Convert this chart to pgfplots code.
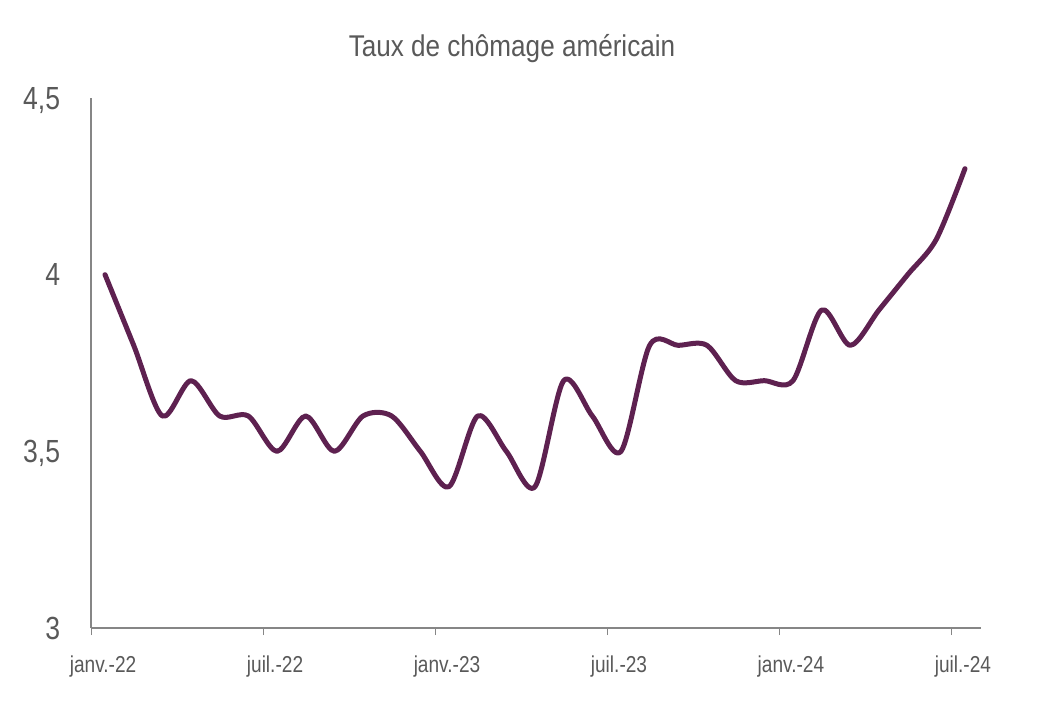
\documentclass[border=0pt]{standalone}
\usepackage{pgfplots}
\pgfplotsset{compat=1.18}
\usepackage{fontspec}
\setmainfont{Liberation Sans}
\newfontfamily\narrowfont[FakeStretch=0.83]{Liberation Sans}
\newfontfamily\titlefont[FakeStretch=0.87]{Liberation Sans}
\definecolor{txtgray}{RGB}{89,89,89}
\definecolor{axgray}{RGB}{134,134,134}
\definecolor{linepurple}{RGB}{94,33,80}
\begin{document}
\begin{tikzpicture}
\useasboundingbox (-68.25pt,-60pt) rectangle (714.75pt,471pt);
\begin{axis}[
  at={(0,0)}, anchor=south west,
  scale only axis,
  width=667.5pt, height=397.5pt,
  xmin=-0.49, xmax=30.56,
  ymin=3, ymax=4.5,
  axis lines*=left,
  axis line style={draw=axgray, line width=1.3pt},
  xtick={-0.47,5.53,11.53,17.53,23.53,29.53},
  xticklabels={janv.-22,juil.-22,janv.-23,juil.-23,janv.-24,juil.-24},
  tick align=outside,
  major tick length=5.25pt,
  xtick style={draw=axgray, line width=1.1pt},
  ytick={3,3.5,4,4.5},
  ytick style={draw=none},
  /pgf/number format/assume math mode=true,
  /pgf/number format/use comma,
  yticklabel style={font=\narrowfont\fontsize{24}{28}\selectfont, text=txtgray, anchor=base east, inner sep=0pt, xshift=-17.75pt, yshift=-8.25pt},
  xticklabel style={font=\narrowfont\fontsize{17.25}{20}\selectfont, text=txtgray, anchor=base, inner sep=0pt, xshift=8.6pt, yshift=-27.75pt},
  title={Taux de chômage américain},
  title style={font=\titlefont\fontsize{22.5}{26}\selectfont, text=txtgray, anchor=base, at={(0.5,1)}, xshift=-18pt, yshift=24.75pt, inner sep=0pt},
  clip=false,
]
\addplot[linepurple, line width=3.75pt, smooth, tension=0.5, line cap=round, line join=round] coordinates {
(0,4.0) (1,3.8) (2,3.6) (3,3.7) (4,3.6) (5,3.6) (6,3.5) (7,3.6) (8,3.5) (9,3.6)
(10,3.6) (11,3.5) (12,3.4) (13,3.6) (14,3.5) (15,3.4) (16,3.7) (17,3.6) (18,3.5) (19,3.8)
(20,3.8) (21,3.8) (22,3.7) (23,3.7) (24,3.7) (25,3.9) (26,3.8) (27,3.9) (28,4.0) (29,4.1)
(30,4.3)
};
\end{axis}
\end{tikzpicture}
\end{document}
